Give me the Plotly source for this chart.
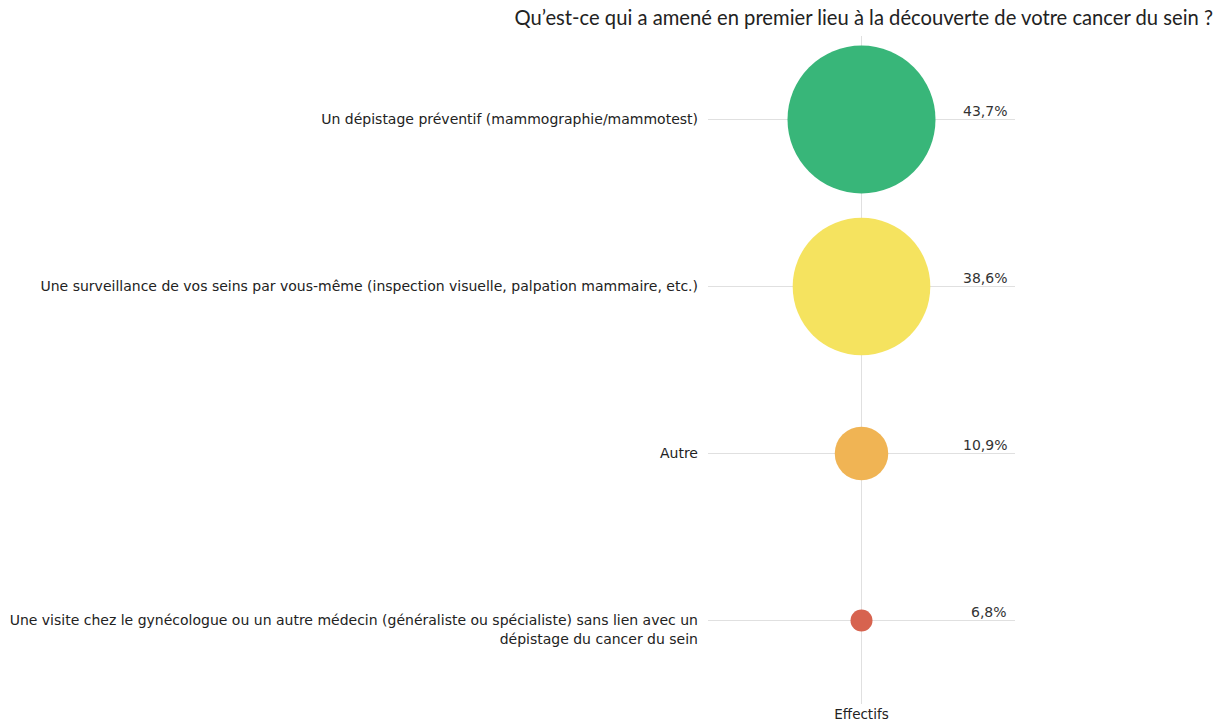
import plotly.graph_objects as go

categories = [
    "Un dépistage préventif (mammographie/mammotest)",
    "Une surveillance de vos seins par vous-même (inspection visuelle, palpation mammaire, etc.)",
    "Autre",
    "Une visite chez le gynécologue ou un autre médecin (généraliste ou spécialiste) sans lien avec un<br>dépistage du cancer du sein",
]
tick_texts = [
    "Un dépistage préventif (mammographie/mammotest)",
    "Une surveillance de vos seins par vous-même (inspection visuelle, palpation mammaire, etc.)",
    "Autre",
    " <br>Une visite chez le gynécologue ou un autre médecin (généraliste ou spécialiste) sans lien avec un<br>dépistage du cancer du sein",
]
values = [43.7, 38.6, 10.9, 6.8]
value_labels = ["43,7%", "38,6%", "10,9%", "6,8%"]
x_label = "Effectifs"
colors = ["#38b679", "#f5e35f", "#f0b454", "#d7634f"]
title = "Qu’est-ce qui a amené en premier lieu à la découverte de votre cancer du sein ?"

# bubble scale: area linear between min and max size (Highcharts-like)
MIN_D, MAX_D = 22, 148
vmin, vmax = min(values), max(values)
sizes = []
for v in values:
    area = MIN_D ** 2 + (v - vmin) / (vmax - vmin) * (MAX_D ** 2 - MIN_D ** 2)
    sizes.append(area ** 0.5)

fig = go.Figure()
fig.add_trace(go.Scatter(
    x=[x_label] * len(categories),
    y=categories,
    mode="markers",
    marker=dict(size=sizes, color=colors, opacity=1, line=dict(width=0)),
    hoverinfo="skip",
    showlegend=False,
    cliponaxis=False,
))

for cat, lab in zip(categories, value_labels):
    fig.add_annotation(
        x=0.980, xref="paper", y=cat, yref="y",
        text=lab, showarrow=False, xanchor="right", yanchor="bottom",
        yshift=-1, font=dict(family="DejaVu Sans", size=14, color="#333333"),
    )

# page body has an 8px margin: figure coords = screen coords - 8
fig.update_layout(
    width=1217, height=716,
    paper_bgcolor="white", plot_bgcolor="white",
    margin=dict(l=700, r=210, t=28, b=20, autoexpand=False),
    title=dict(text=title, x=1205 / 1217, xref="container", xanchor="right",
               y=1 - 3 / 716, yanchor="top", yref="container", automargin=False,
               pad=dict(t=0, b=0, l=0, r=0),
               font=dict(family="Lato", size=20.2, color="#222222")),
    xaxis=dict(type="category", range=[-0.5, 0.5], showgrid=True,
               gridcolor="#e0e0e0", gridwidth=1, automargin=False,
               zeroline=False, showline=False, ticks="", ticklen=0,
               tickfont=dict(family="DejaVu Sans", size=13.5, color="#222222")),
    yaxis=dict(type="category", categoryorder="array", categoryarray=categories,
               range=[3.5, -0.5], showgrid=True, gridcolor="#e0e0e0", gridwidth=1,
               tickmode="array", tickvals=categories, ticktext=tick_texts,
               zeroline=False, showline=False, ticks="", ticklen=0,
               ticklabelstandoff=9, automargin=False,
               tickfont=dict(family="DejaVu Sans", size=14, color="#222222")),
)

fig.write_html("out.html")
